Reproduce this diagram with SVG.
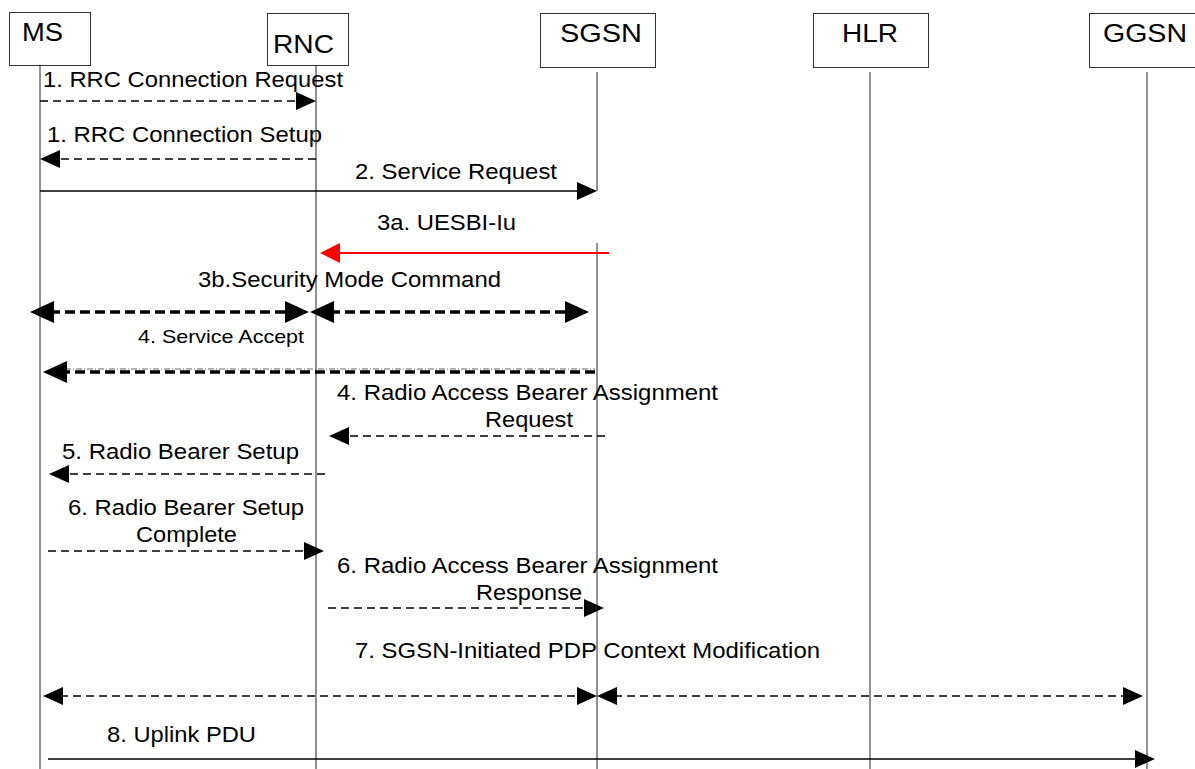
<svg xmlns="http://www.w3.org/2000/svg" width="1195" height="769" viewBox="0 0 1195 769">
<style>
  .box { fill: #fff; stroke: #333; stroke-width: 1; }
  .life { stroke: #222; stroke-width: 1; fill: none; }
  .name { font-family: "Liberation Sans", Arial, sans-serif; font-size: 25px; fill: #000; }
  .lbl { font-family: "Liberation Sans", Arial, sans-serif; font-size: 22px; fill: #000; }
  .small { font-size: 19px; }
  .dash { stroke: #000; stroke-width: 1.6; stroke-dasharray: 8 5; fill: none; }
  .solid { stroke: #000; stroke-width: 1.6; fill: none; }
  .thick { stroke: #000; stroke-width: 3.5; stroke-dasharray: 10 5; fill: none; }
  .thin { stroke: #666; stroke-width: 1; stroke-dasharray: 6 2 1 2; fill: none; }
  .red { stroke: #ff0000; stroke-width: 2; fill: none; }
</style>
<defs>
  <marker id="ah" markerUnits="userSpaceOnUse" markerWidth="20" markerHeight="18" viewBox="0 0 20 18" refX="16" refY="9" orient="auto-start-reverse">
    <path d="M0,0 L20,9 L0,18 Z" fill="#000"/>
  </marker>
  <marker id="ahb" markerUnits="userSpaceOnUse" markerWidth="24" markerHeight="22" viewBox="0 0 24 22" refX="19" refY="11" orient="auto-start-reverse">
    <path d="M0,0 L24,11 L0,22 Z" fill="#000"/>
  </marker>
  <marker id="ahr" markerUnits="userSpaceOnUse" markerWidth="20" markerHeight="20" viewBox="0 0 20 20" refX="16" refY="10" orient="auto-start-reverse">
    <path d="M0,0 L20,10 L0,20 Z" fill="#ff0000"/>
  </marker>
</defs>
<rect width="1195" height="769" fill="#fff"/>

<g id="node-MS">
  <rect class="box" x="9.5" y="12.5" width="81" height="53"/>
  <text class="name" x="22" y="41" textLength="41" lengthAdjust="spacingAndGlyphs">MS</text>
  <line class="life" x1="40" y1="65" x2="40" y2="769"/>
</g>
<g id="node-RNC">
  <rect class="box" x="267.5" y="13.5" width="81" height="52"/>
  <text class="name" x="273" y="53" textLength="61" lengthAdjust="spacingAndGlyphs">RNC</text>
  <line class="life" x1="316" y1="65" x2="316" y2="769"/>
</g>
<g id="node-SGSN">
  <rect class="box" x="540.5" y="13.5" width="115" height="54"/>
  <text class="name" x="560" y="42" textLength="82" lengthAdjust="spacingAndGlyphs">SGSN</text>
  <line class="life" x1="597" y1="72" x2="597" y2="191"/>
  <line class="life" x1="597" y1="243" x2="597" y2="769"/>
</g>
<g id="node-HLR">
  <rect class="box" x="813.5" y="13.5" width="115" height="54"/>
  <text class="name" x="842" y="42" textLength="56" lengthAdjust="spacingAndGlyphs">HLR</text>
  <line class="life" x1="870" y1="72" x2="870" y2="769"/>
</g>
<g id="node-GGSN">
  <rect class="box" x="1089.5" y="13.5" width="120" height="54"/>
  <text class="name" x="1103" y="42" textLength="84" lengthAdjust="spacingAndGlyphs">GGSN</text>
  <line class="life" x1="1147" y1="72" x2="1147" y2="769"/>
</g>

<g id="connectors">
  <!-- 1. RRC Connection Request -->
  <text class="lbl" x="43" y="87" textLength="300" lengthAdjust="spacingAndGlyphs">1. RRC Connection Request</text>
  <line class="dash" x1="40" y1="101" x2="312" y2="101" marker-end="url(#ah)"/>
  <!-- 1. RRC Connection Setup -->
  <text class="lbl" x="47" y="142" textLength="275" lengthAdjust="spacingAndGlyphs">1. RRC Connection Setup</text>
  <line class="dash" x1="316" y1="159" x2="44" y2="159" marker-end="url(#ah)"/>
  <!-- 2. Service Request -->
  <text class="lbl" x="355" y="179" textLength="202" lengthAdjust="spacingAndGlyphs">2. Service Request</text>
  <line class="solid" x1="40" y1="191" x2="593" y2="191" marker-end="url(#ah)"/>
  <!-- 3a. UESBI-Iu -->
  <text class="lbl" x="377" y="230" textLength="139" lengthAdjust="spacingAndGlyphs">3a. UESBI-Iu</text>
  <line class="red" x1="609" y1="253" x2="324" y2="253" marker-end="url(#ahr)"/>
  <!-- 3b. Security Mode Command -->
  <text class="lbl" x="198" y="287" textLength="303" lengthAdjust="spacingAndGlyphs">3b.Security Mode Command</text>
  <line class="thick" x1="35" y1="312" x2="304" y2="312" marker-start="url(#ahb)" marker-end="url(#ahb)"/>
  <line class="thick" x1="315" y1="312" x2="584" y2="312" marker-start="url(#ahb)" marker-end="url(#ahb)"/>
  <!-- 4. Service Accept -->
  <text class="lbl small" x="138" y="343" textLength="166" lengthAdjust="spacingAndGlyphs">4. Service Accept</text>
  <line class="thin" x1="65" y1="369" x2="595" y2="369"/>
  <line class="thick" x1="595" y1="372" x2="48" y2="372" marker-end="url(#ahb)"/>
  <!-- 4. Radio Access Bearer Assignment Request -->
  <text class="lbl" x="337" y="400" textLength="381" lengthAdjust="spacingAndGlyphs">4. Radio Access Bearer Assignment</text>
  <text class="lbl" x="485" y="427" textLength="88" lengthAdjust="spacingAndGlyphs">Request</text>
  <line class="dash" x1="605" y1="436" x2="333" y2="436" marker-end="url(#ah)"/>
  <!-- 5. Radio Bearer Setup -->
  <text class="lbl" x="62" y="459" textLength="237" lengthAdjust="spacingAndGlyphs">5. Radio Bearer Setup</text>
  <line class="dash" x1="325" y1="474" x2="53" y2="474" marker-end="url(#ah)"/>
  <!-- 6. Radio Bearer Setup Complete -->
  <text class="lbl" x="68" y="515" textLength="236" lengthAdjust="spacingAndGlyphs">6. Radio Bearer Setup</text>
  <text class="lbl" x="136" y="542" textLength="101" lengthAdjust="spacingAndGlyphs">Complete</text>
  <line class="dash" x1="48" y1="551" x2="320" y2="551" marker-end="url(#ah)"/>
  <!-- 6. Radio Access Bearer Assignment Response -->
  <text class="lbl" x="337" y="573" textLength="381" lengthAdjust="spacingAndGlyphs">6. Radio Access Bearer Assignment</text>
  <text class="lbl" x="476" y="600" textLength="106" lengthAdjust="spacingAndGlyphs">Response</text>
  <line class="dash" x1="328" y1="608" x2="600" y2="608" marker-end="url(#ah)"/>
  <!-- 7. SGSN-Initiated PDP Context Modification -->
  <text class="lbl" x="355" y="658" textLength="465" lengthAdjust="spacingAndGlyphs">7. SGSN-Initiated PDP Context Modification</text>
  <line class="dash" x1="47" y1="696" x2="593" y2="696" marker-start="url(#ah)" marker-end="url(#ah)"/>
  <line class="dash" x1="601" y1="696" x2="1139" y2="696" marker-start="url(#ah)" marker-end="url(#ah)"/>
  <!-- 8. Uplink PDU -->
  <text class="lbl" x="107" y="742" textLength="149" lengthAdjust="spacingAndGlyphs">8. Uplink PDU</text>
  <line class="solid" x1="48" y1="759" x2="1151" y2="759" stroke-width="2" marker-end="url(#ah)"/>
</g>
</svg>
